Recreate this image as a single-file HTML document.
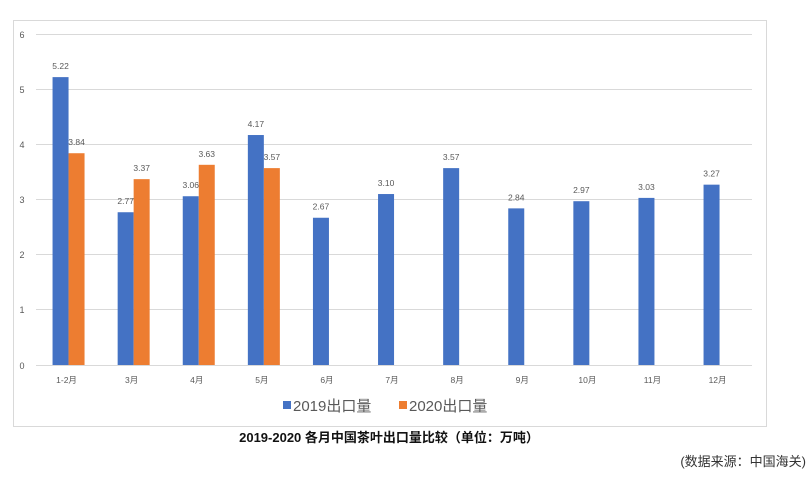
<!DOCTYPE html>
<html><head><meta charset="utf-8"><style>
body{margin:0;background:#fff;width:812px;height:474px;overflow:hidden;font-family:"Liberation Sans","Noto Sans CJK SC",sans-serif}
</style></head><body>
<svg width="812" height="474" xmlns="http://www.w3.org/2000/svg" font-family="Liberation Sans, Noto Sans CJK SC, sans-serif">
<rect x="13.5" y="20.5" width="753" height="406" fill="#fff" stroke="#d9d9d9"/>
<g stroke="#d9d9d9" stroke-width="1">
<line x1="36" x2="752" y1="34.5" y2="34.5"/>
<line x1="36" x2="752" y1="89.5" y2="89.5"/>
<line x1="36" x2="752" y1="144.5" y2="144.5"/>
<line x1="36" x2="752" y1="199.5" y2="199.5"/>
<line x1="36" x2="752" y1="254.5" y2="254.5"/>
<line x1="36" x2="752" y1="309.5" y2="309.5"/>
<line x1="36" x2="752" y1="365.5" y2="365.5"/>
</g>
<g font-size="9" fill="#595959" text-anchor="middle">
<text x="22" y="38">6</text><text x="22" y="93">5</text><text x="22" y="148">4</text>
<text x="22" y="203">3</text><text x="22" y="258">2</text><text x="22" y="313">1</text><text x="22" y="369">0</text>
</g>
<g id="bars"></g>
<g font-size="8.5" fill="#595959" text-anchor="middle" id="lbl"></g>
<rect x="283" y="401" width="8" height="8" fill="#4472c4"/>
<text x="293" y="411" font-size="15" fill="#595959">2019出口量</text>
<rect x="399" y="401" width="8" height="8" fill="#ed7d31"/>
<text x="409" y="411" font-size="15" fill="#595959">2020出口量</text>
<text x="389" y="442" font-size="13" font-weight="bold" text-anchor="middle" fill="#111">2019-2020 各月中国茶叶出口量比较（单位：万吨）</text>
<text x="806" y="466" font-size="13" text-anchor="end" fill="#333">(数据来源：中国海关)</text>
</svg>
<script>
var a=[5.22,2.77,3.06,4.17,2.67,3.10,3.57,2.84,2.97,3.03,3.27],b=[3.84,3.37,3.63,3.57];
var c=["1-2月","3月","4月","5月","6月","7月","8月","9月","10月","11月","12月"];
var s="",t="",y0=365,k=55.15;
for(var i=0;i<11;i++){var x=36+65.1*(i+0.5);
var h=a[i]*k;s+='<rect x="'+(x-16)+'" y="'+(y0-h)+'" width="16" height="'+h+'" fill="#4472c4"/>';
t+='<text x="'+(x-8)+'" y="'+(y0-h-8)+'">'+a[i].toFixed(2)+'</text>';
if(i<4){var g=b[i]*k;s+='<rect x="'+x+'" y="'+(y0-g)+'" width="16" height="'+g+'" fill="#ed7d31"/>';
t+='<text x="'+(x+8)+'" y="'+(y0-g-8)+'">'+b[i].toFixed(2)+'</text>';}
t+='<text x="'+(x-2)+'" y="383">'+c[i]+'</text>';}
document.getElementById("bars").innerHTML=s;document.getElementById("lbl").innerHTML=t;
</script>
</body></html>
